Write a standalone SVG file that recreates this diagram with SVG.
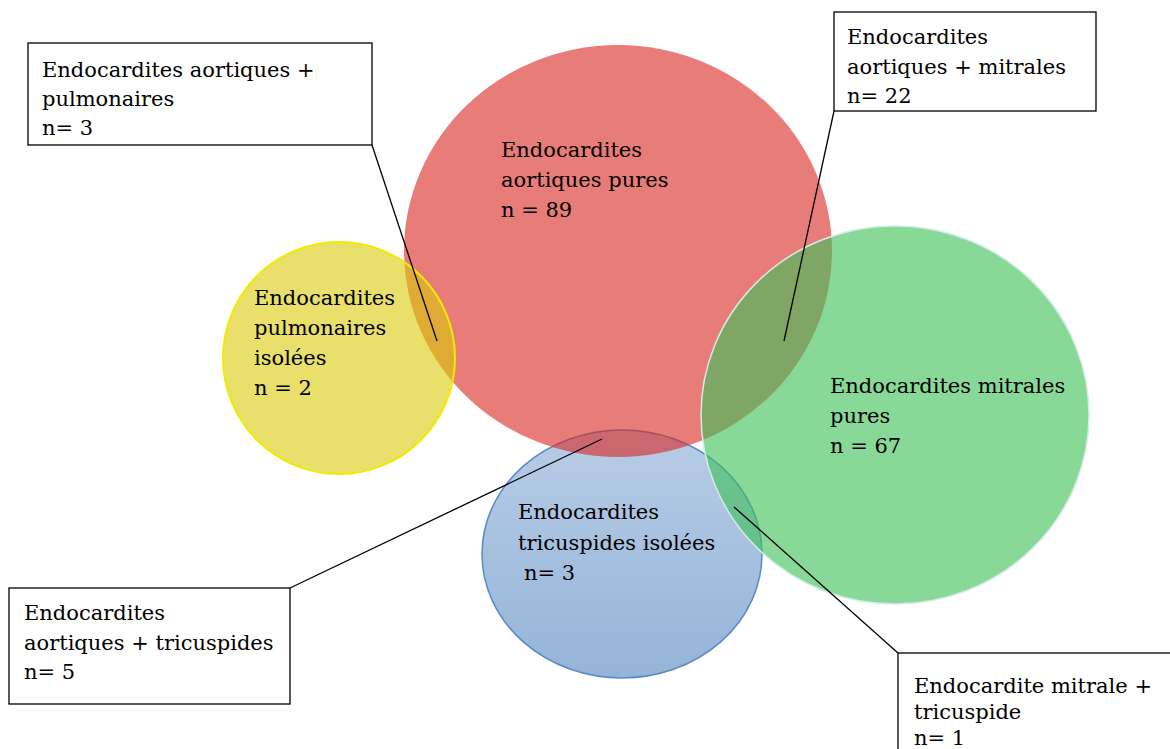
<svg xmlns="http://www.w3.org/2000/svg" width="1170" height="749" viewBox="0 0 1170 749">
<defs>
<linearGradient id="blueGrad" x1="0" y1="0" x2="0" y2="1">
<stop offset="0" stop-color="#89aad5"/>
<stop offset="1" stop-color="#4d82be"/>
</linearGradient>
<style>
text{font-family:"DejaVu Serif","Liberation Serif",serif;font-size:21px;fill:#000}
.box{fill:#fff;stroke:#000;stroke-width:1.3}
.conn{stroke:#000;stroke-width:1.3;fill:none}
</style>
</defs>
<rect width="1170" height="749" fill="#fff"/>
<g id="circle-tricuspide">
<ellipse cx="622" cy="554" rx="140" ry="124" fill="url(#blueGrad)" fill-opacity="0.6" stroke="#5a8ac6" stroke-width="1.5"/>
</g>
<g id="circle-aortique">
<ellipse cx="618" cy="251" rx="214" ry="206" fill="#d9251e" fill-opacity="0.6"/>
</g>
<g id="circle-pulmonaire">
<circle cx="339" cy="358" r="116" fill="#d9cb07" fill-opacity="0.6" stroke="#f2ea00" stroke-width="2"/>
</g>
<g id="circle-mitrale">
<ellipse cx="895" cy="415" rx="194" ry="189" fill="#3fc059" fill-opacity="0.62" stroke="#d4ece6" stroke-width="1.5"/>
</g>
<g id="circle-labels">
<text x="518" y="519">Endocardites</text>
<text x="518" y="550">tricuspides isolées</text>
<text x="524" y="580">n= 3</text>
<text x="501" y="157">Endocardites</text>
<text x="501" y="187">aortiques pures</text>
<text x="501" y="217">n = 89</text>
<text x="254" y="305">Endocardites</text>
<text x="254" y="335">pulmonaires</text>
<text x="254" y="365">isolées</text>
<text x="254" y="395">n = 2</text>
<text x="830" y="393">Endocardites mitrales</text>
<text x="830" y="423">pures</text>
<text x="830" y="453">n = 67</text>
</g>
<g id="connectors">
<line class="conn" x1="372" y1="145" x2="437" y2="341"/>
<line class="conn" x1="834" y1="111" x2="784" y2="341"/>
<line class="conn" x1="290" y1="588" x2="602" y2="439"/>
<line class="conn" x1="734" y1="507" x2="898" y2="653"/>
</g>
<g id="box-aortique-pulmonaire">
<rect class="box" x="28" y="43" width="344" height="102"/>
<text x="42" y="77">Endocardites aortiques +</text>
<text x="42" y="106">pulmonaires</text>
<text x="42" y="135">n= 3</text>
</g>
<g id="box-aortique-mitrale">
<rect class="box" x="834" y="12" width="262" height="99"/>
<text x="847" y="44">Endocardites</text>
<text x="847" y="74">aortiques + mitrales</text>
<text x="847" y="103">n= 22</text>
</g>
<g id="box-aortique-tricuspide">
<rect class="box" x="9" y="588" width="281" height="116"/>
<text x="24" y="620">Endocardites</text>
<text x="24" y="650">aortiques + tricuspides</text>
<text x="24" y="679">n= 5</text>
</g>
<g id="box-mitrale-tricuspide">
<rect class="box" x="898" y="653" width="300" height="120"/>
<text x="914" y="693">Endocardite mitrale +</text>
<text x="914" y="719">tricuspide</text>
<text x="914" y="745">n= 1</text>
</g>
</svg>
